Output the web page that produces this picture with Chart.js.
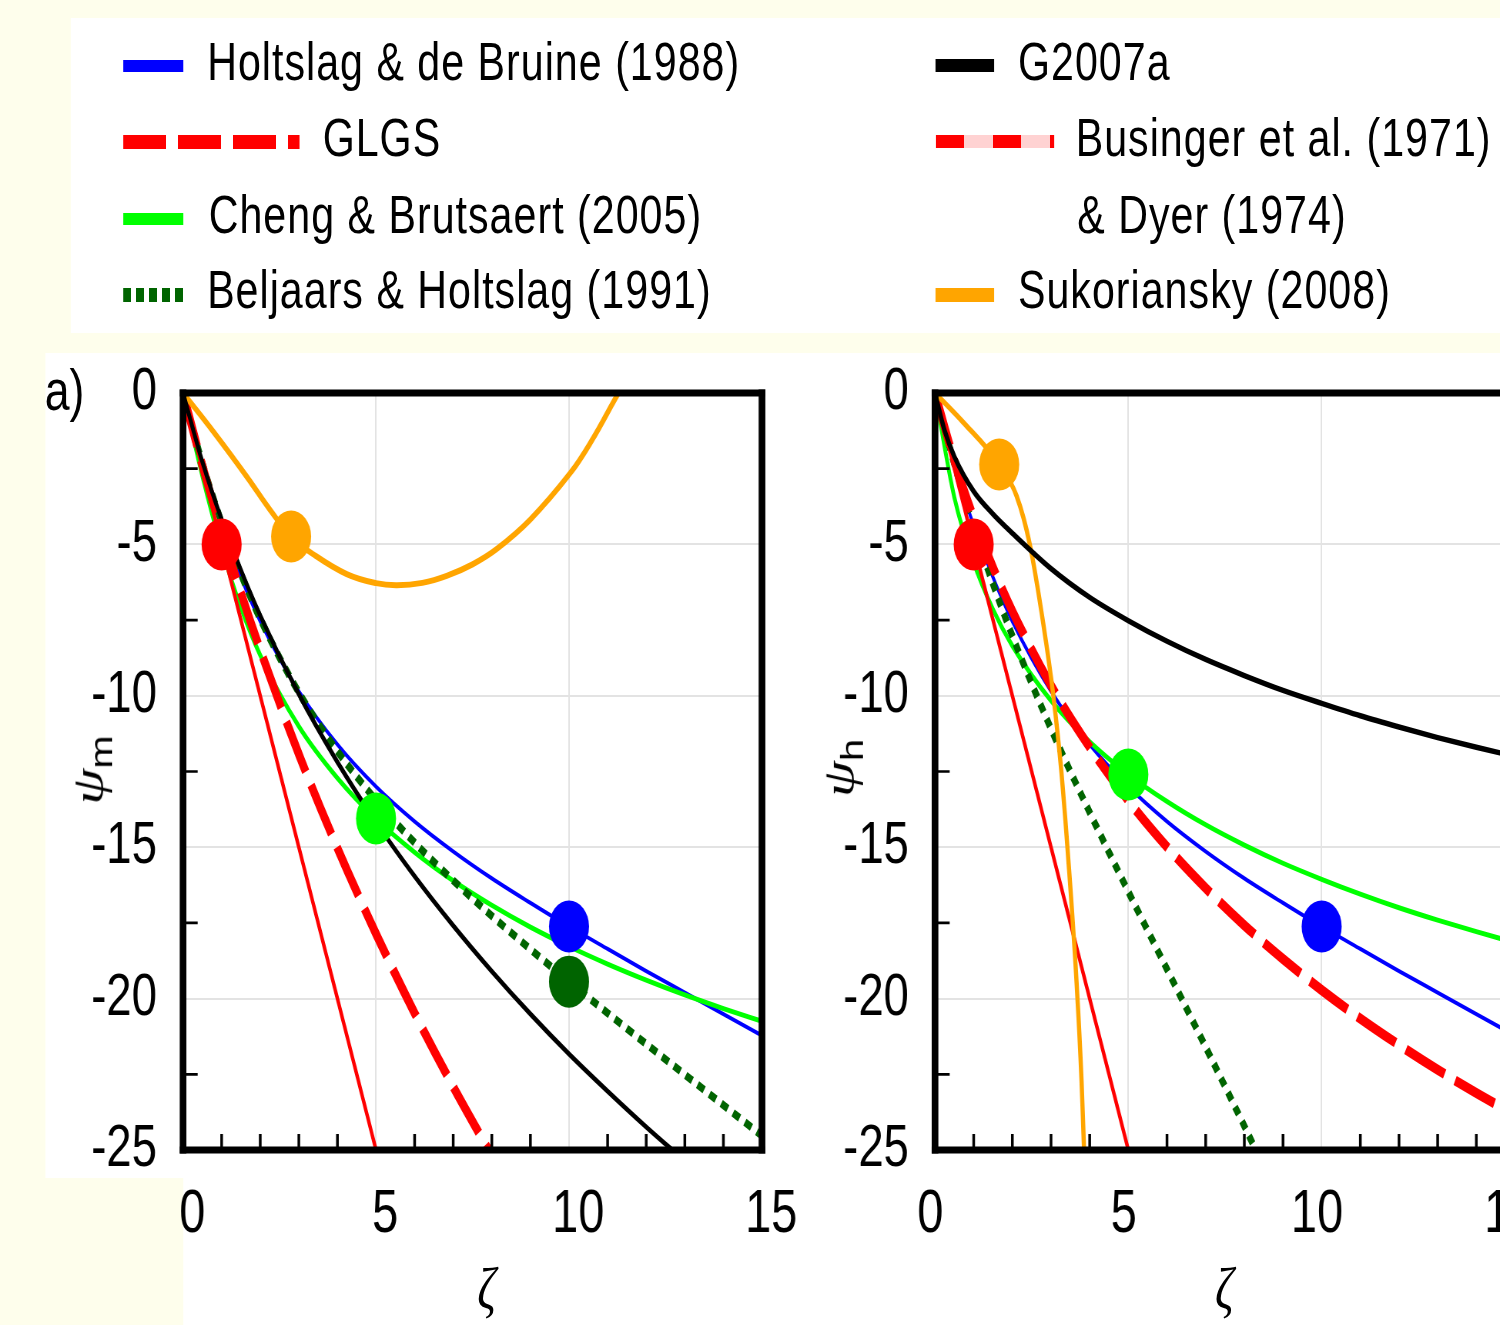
<!DOCTYPE html>
<html>
<head>
<meta charset="utf-8">
<script src="https://cdn.jsdelivr.net/npm/chart.js@4.4.1/dist/chart.umd.min.js"></script>
<style>
  html, body { margin: 0; padding: 0; width: 1500px; height: 1325px; overflow: hidden; background: #fefeec; }
  /* the whole figure is squeezed horizontally, like the reference */
  #page { position: absolute; left: 0; top: 0; width: 1949px; height: 1325px; transform: scaleX(0.77); transform-origin: 0 0; font-family: "Liberation Sans", Arial, sans-serif; color: #000; }
  .white { position: absolute; background: #fff; }
  .txt { position: absolute; font-size: 53.5px; line-height: 53.5px; white-space: nowrap; letter-spacing: 1.3px; }
  .sw { position: absolute; }
  .greek { position: absolute; font-family: "Liberation Serif", serif; font-style: italic; white-space: nowrap; }
  .ylab { position: absolute; white-space: nowrap; transform: translate(-50%, -50%) rotate(-90deg); line-height: 60px; }
  .ylab .psi { font-family: "Liberation Serif", serif; font-style: italic; font-size: 58px; }
  .ylab .sub { font-family: "Liberation Sans", sans-serif; font-size: 40px; position: relative; top: 12px; }
  canvas { position: absolute; }
</style>
</head>
<body>
<div id="page">
  <div class="white" style="left:92px; top:18px; width:1857px; height:315px;"></div>
  <div class="white" style="left:59px; top:353px; width:1890px; height:825px;"></div>
  <div class="white" style="left:238px; top:1177px; width:1711px; height:148px;"></div>

  <!-- legend, left column -->
  <div class="sw" style="left:160px; top:60px; width:78px; height:12px; background:#0000ff;"></div>
  <div class="txt" style="left:269px; top:35px;">Holtslag &amp; de Bruine (1988)</div>
  <div class="sw" style="left:160px; top:135px; width:229px; height:14px; background:repeating-linear-gradient(to right, #ff0000 0 56px, transparent 56px 71.5px);"></div>
  <div class="txt" style="left:419px; top:111px;">GLGS</div>
  <div class="sw" style="left:160px; top:213px; width:78px; height:12px; background:#00ff00;"></div>
  <div class="txt" style="left:271px; top:188px;">Cheng &amp; Brutsaert (2005)</div>
  <div class="sw" style="left:160px; top:288px; width:78px; height:14px; background:repeating-linear-gradient(to right, #006400 0 10.5px, transparent 10.5px 16.8px);"></div>
  <div class="txt" style="left:269px; top:263px;">Beljaars &amp; Holtslag (1991)</div>

  <!-- legend, right column -->
  <div class="sw" style="left:1215px; top:59px; width:76px; height:13px; background:#000;"></div>
  <div class="txt" style="left:1322px; top:35px;">G2007a</div>
  <div class="sw" style="left:1215px; top:135px; width:154px; height:13px; background:repeating-linear-gradient(to right, #ff0000 0 37px, #ffd2d2 37px 74.2px);"></div>
  <div class="txt" style="left:1397px; top:111px;">Businger et al. (1971)</div>
  <div class="txt" style="left:1399px; top:188px;">&amp; Dyer (1974)</div>
  <div class="sw" style="left:1215px; top:288px; width:76px; height:14px; background:#ffa500;"></div>
  <div class="txt" style="left:1322px; top:263px;">Sukoriansky (2008)</div>

  <canvas id="chartM" width="1100" height="985" style="left:0px; top:340px;"></canvas>
  <canvas id="chartH" width="1060" height="985" style="left:1000px; top:340px;"></canvas>

  <div class="txt" style="left:58px; top:361px; font-size:58px; line-height:58px; letter-spacing:0;">a)</div>
  <div class="ylab" style="left:122px; top:770px;"><span class="psi">ψ</span><span class="sub">m</span></div>
  <div class="ylab" style="left:1097px; top:768px;"><span class="psi">ψ</span><span class="sub">h</span></div>
  <div class="greek" style="left:632px; top:1288px; font-size:60px; line-height:60px; transform:translate(-50%,-50%);">ζ</div>
  <div class="greek" style="left:1590px; top:1288px; font-size:60px; line-height:60px; transform:translate(-50%,-50%);">ζ</div>
</div>

<script>
// ---- data ----
const zeta = [0, 0.5, 1, 1.5, 2, 3, 4, 5, 6, 7, 8, 9, 10, 11, 12, 13, 14, 15];

// panel a) psi_m
const psiM_holtslag = [0, -2.38, -4.39, -6.09, -7.54, -9.85, -11.61, -13.00, -14.15, -15.14, -16.03, -16.84, -17.62, -18.36, -19.09, -19.80, -20.51, -21.22];
const psiM_cheng = [0, -2.74, -5.13, -7.09, -8.66, -11.01, -12.72, -14.07, -15.17, -16.11, -16.92, -17.64, -18.28, -18.86, -19.39, -19.88, -20.33, -20.75];
const psiM_beljaars = [0, -2.31, -4.28, -5.98, -7.46, -9.89, -11.83, -13.45, -14.85, -16.10, -17.27, -18.37, -19.44, -20.48, -21.50, -22.51, -23.52, -24.53];
const zetaG_m = [0, 0.5, 1, 1.5, 2, 3, 4, 5, 6, 7, 8, 9, 10, 11, 12, 13];
const psiM_grachev = [0, -2.27, -4.18, -5.85, -7.35, -9.95, -12.19, -14.17, -15.96, -17.59, -19.10, -20.51, -21.83, -23.06, -24.24, -25.36];
const zetaGLGS_m = [0, 0.5, 1, 1.5, 2, 3, 4, 5, 6, 7, 8];
const psiM_glgs = [0, -2.39, -4.57, -6.60, -8.48, -11.93, -15.03, -17.86, -20.48, -22.91, -25.19];
const zetaBD = [0, 5.2];
const psiM_businger = [0, -26];
const zetaSuk_m = [0, 0.8, 1.65, 2.25, 2.8, 3.38, 4.24, 5, 5.54, 6.2, 6.83, 7.5, 8.13, 8.99, 10.03, 10.6, 11.15, 11.5];
const psiM_sukoriansky = [0, -1.3, -2.76, -3.85, -4.74, -5.33, -5.98, -6.28, -6.35, -6.27, -6.04, -5.66, -5.15, -4.19, -2.65, -1.55, -0.3, 0.5];
const dotsM_zeta = [1, 2.8, 5, 10, 10];
const dotsM_psi = [-5, -4.74, -14.05, -17.62, -19.44];

// panel b) psi_h
const psiH_holtslag = [0, -2.38, -4.39, -6.09, -7.54, -9.85, -11.61, -13.00, -14.15, -15.14, -16.03, -16.84, -17.62, -18.36, -19.09, -19.80, -20.51, -21.22];
const psiH_cheng = [0, -3.45, -5.60, -7.15, -8.35, -10.16, -11.52, -12.60, -13.49, -14.26, -14.93, -15.53, -16.06, -16.55, -17.00, -17.41, -17.79, -18.15];
const zetaBH_h = [0, 0.5, 1, 1.5, 2, 3, 4, 5, 6, 7, 8, 8.5];
const psiH_beljaars = [0, -2.35, -4.43, -6.31, -8.02, -11.09, -13.85, -16.47, -19.03, -21.60, -24.21, -25.54];
const zetaG_h = [0, 0.25, 0.5, 1, 1.5, 2, 3, 4, 5, 6, 7, 8, 9, 10, 11, 12, 13, 14, 15];
const psiH_grachev = [0, -1.25, -2.1, -3.25, -4.0, -4.63, -5.8, -6.75, -7.52, -8.20, -8.80, -9.33, -9.82, -10.25, -10.66, -11.03, -11.38, -11.70, -12.00];
const psiH_glgs = [0, -2.23, -4.12, -5.76, -7.20, -9.66, -11.70, -13.46, -14.99, -16.35, -17.58, -18.69, -19.72, -20.66, -21.53, -22.35, -23.12, -23.84];
const psiH_businger = [0, -26];
const zetaSuk_h = [0, 0.73, 1.66, 2.11, 2.45, 2.8, 3.06, 3.27, 3.49, 3.66, 3.79, 3.85, 3.9];
const psiH_sukoriansky = [0, -0.97, -2.36, -3.4, -4.99, -7.62, -10, -12.54, -16.15, -19.44, -22.72, -24.85, -26.5];
const dotsH_zeta = [1.66, 1, 5, 10];
const dotsH_psi = [-2.36, -5, -12.6, -17.62];

const xTicks = [0, 5, 10, 15];
const yTicks = [0, -5, -10, -15, -20, -25];
const xMinor = [1, 2, 3, 4, 6, 7, 8, 9, 11, 12, 13, 14];
const yMinor = [-2.5, -7.5, -12.5, -17.5, -22.5];

// ---- helpers ----
const pts = (xs, ys) => xs.map((x, i) => ({ x: x, y: ys[i] }));

function line(xs, ys, color, width, dash, smooth) {
  return {
    data: pts(xs, ys),
    borderColor: color,
    borderWidth: width,
    borderDash: dash || [],
    borderCapStyle: 'butt',
    pointRadius: 0,
    fill: false,
    cubicInterpolationMode: smooth ? 'default' : 'monotone',
    tension: smooth ? 0.4 : 0,
    order: 1
  };
}

function dots(xs, ys, colors) {
  return {
    data: pts(xs, ys),
    showLine: false,
    pointRadius: 26,
    pointStyle: 'circle',
    pointBackgroundColor: colors,
    pointBorderWidth: 0,
    order: 0,
    clip: false
  };
}

const framePlugin = {
  id: 'frame',
  afterDatasetsDraw(chart) {
    const ctx = chart.ctx;
    const a = chart.chartArea;
    const sx = chart.scales.x, sy = chart.scales.y;
    ctx.save();
    ctx.strokeStyle = '#000';
    ctx.lineWidth = 3.5;
    ctx.beginPath();
    xMinor.forEach(v => {
      const px = sx.getPixelForValue(v);
      ctx.moveTo(px, a.bottom);
      ctx.lineTo(px, a.bottom - 16);
    });
    ctx.stroke();
    ctx.lineWidth = 2.7;
    ctx.beginPath();
    yMinor.forEach(v => {
      const py = sy.getPixelForValue(v);
      ctx.moveTo(a.left, py);
      ctx.lineTo(a.left + 19, py);
    });
    ctx.stroke();
    ctx.fillStyle = '#000';
    const hw = 4.35, hh = 3.5;
    ctx.fillRect(a.left - hw, a.top - hh, a.right - a.left + 2 * hw, 2 * hh);
    ctx.fillRect(a.left - hw, a.bottom - hh, a.right - a.left + 2 * hw, 2 * hh);
    ctx.fillRect(a.left - hw, a.top - hh, 2 * hw, a.bottom - a.top + 2 * hh);
    ctx.fillRect(a.right - hw, a.top - hh, 2 * hw, a.bottom - a.top + 2 * hh);
    ctx.restore();
  }
};

function panel(id, datasets, yWidth, padRight, labelShift) {
  return new Chart(document.getElementById(id), {
    type: 'line',
    data: { datasets: datasets },
    plugins: [framePlugin],
    options: {
      responsive: false,
      animation: false,
      devicePixelRatio: 1,
      layout: { padding: { left: 0, top: 53, right: padRight, bottom: 0 } },
      plugins: { legend: { display: false }, tooltip: { enabled: false } },
      scales: {
        x: {
          type: 'linear', min: 0, max: 15,
          afterBuildTicks: s => { s.ticks = xTicks.map(v => ({ value: v })); },
          afterFit: s => { s.height = 175; },
          grid: { color: '#e3e3e3', lineWidth: 2, drawTicks: false },
          border: { display: false },
          ticks: {
            color: '#000', font: { family: 'Liberation Sans', size: 61 },
            padding: 29, labelOffset: labelShift, maxRotation: 0, autoSkip: false,
            callback: v => String(v)
          }
        },
        y: {
          type: 'linear', min: -25, max: 0,
          afterBuildTicks: s => { s.ticks = yTicks.map(v => ({ value: v })); },
          afterFit: s => { s.width = yWidth; s.paddingTop = 0; s.paddingBottom = 0; },
          grid: { color: '#e3e3e3', lineWidth: 2, drawTicks: false },
          border: { display: false },
          ticks: {
            color: '#000', font: { family: 'Liberation Sans', size: 59 },
            padding: 34, autoSkip: false,
            callback: v => String(v)
          }
        }
      }
    }
  });
}

panel('chartM', [
  dots(dotsM_zeta, dotsM_psi, ['#ff0000', '#ffa500', '#00ff00', '#0000ff', '#006400']),
  line(zetaG_m, psiM_grachev, '#000000', 5),
  line(zetaSuk_m, psiM_sukoriansky, '#ffa500', 6, null, true),
  line(zetaBD, psiM_businger, '#ff0000', 4.5),
  line(zetaGLGS_m, psiM_glgs, '#ff0000', 10, [56, 15]),
  line(zeta, psiM_beljaars, '#006400', 8, [10, 8]),
  line(zeta, psiM_cheng, '#00ff00', 5),
  line(zeta, psiM_holtslag, '#0000ff', 4)
], 237.7, 110.4, 12);

panel('chartH', [
  dots(dotsH_zeta, dotsH_psi, ['#ffa500', '#ff0000', '#00ff00', '#0000ff']),
  line(zetaG_h, psiH_grachev, '#000000', 5.5),
  line(zetaSuk_h, psiH_sukoriansky, '#ffa500', 5.5),
  line(zetaBD, psiH_businger, '#ff0000', 4.5),
  line(zeta, psiH_glgs, '#ff0000', 10, [56, 15]),
  line(zetaBH_h, psiH_beljaars, '#006400', 8, [9, 8]),
  line(zeta, psiH_cheng, '#00ff00', 5),
  line(zeta, psiH_holtslag, '#0000ff', 4)
], 214.3, 92.5, -6);
</script>
</body>
</html>
